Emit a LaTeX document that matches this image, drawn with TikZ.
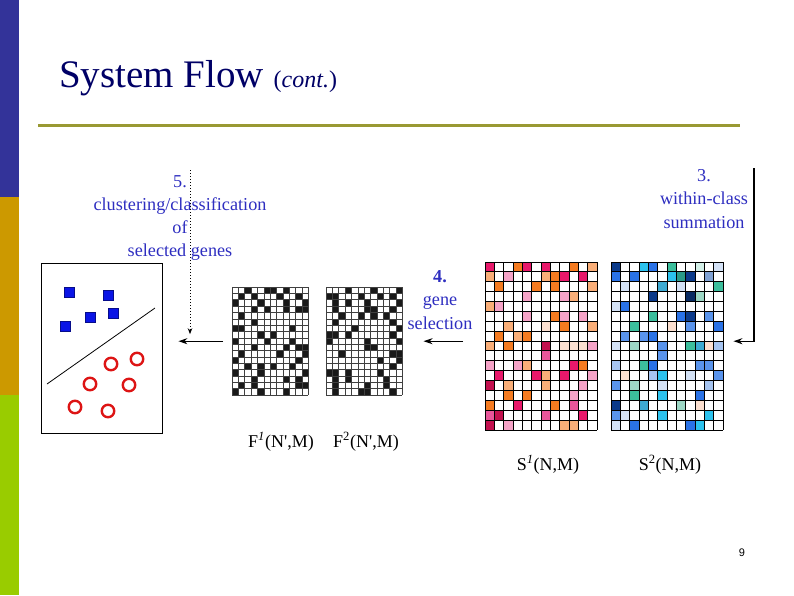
\documentclass[tikz,border=0pt]{standalone}
\usepackage{fontspec}
\setmainfont{Liberation Serif}
\newfontfamily\pagenumfont{Liberation Sans}
\usetikzlibrary{positioning, arrows.meta, calc}
\definecolor{barblue}{HTML}{333399}
\definecolor{bargold}{HTML}{CC9900}
\definecolor{bargreen}{HTML}{99CC00}
\definecolor{titlenavy}{HTML}{000066}
\definecolor{ruleolive}{HTML}{999933}
\definecolor{stepblue}{HTML}{2E2EC0}
\definecolor{sqblue}{HTML}{0A14E6}
\definecolor{ringred}{HTML}{DD1414}
% S1 colours
\definecolor{pk}{HTML}{E8186A}
\definecolor{dpk}{HTML}{C2104E}
\definecolor{mpk}{HTML}{E8569A}
\definecolor{or}{HTML}{F57B20}
\definecolor{lor}{HTML}{F9AE78}
\definecolor{lpk}{HTML}{F5A3C7}
\definecolor{pch}{HTML}{FCE0D0}
% S2 colours
\definecolor{nv}{HTML}{0B3A8A}
\definecolor{dnv}{HTML}{082A62}
\definecolor{bl}{HTML}{2A72E6}
\definecolor{mbl}{HTML}{5A94EC}
\definecolor{cy}{HTML}{2CC2EE}
\definecolor{tl}{HTML}{3CBE9C}
\definecolor{dtl}{HTML}{2A9A88}
\definecolor{ltl}{HTML}{9ED8C6}
\definecolor{ptl}{HTML}{D4F0E8}
\definecolor{lbl}{HTML}{A6C4F0}
\definecolor{plb}{HTML}{D4E2F6}
\definecolor{grb}{HTML}{80A2D4}
\definecolor{sbl}{HTML}{3DAAD2}

\tikzset{
	titletext/.style={
			inner sep=0pt,
			text=titlenavy,
			font=\fontsize{39}{44}\selectfont
		},
	steplabel/.style={
			align=center,
			inner sep=0pt,
			text=stepblue,
			font=\fontsize{18.2}{23.2}\selectfont
		},
	matlabel/.style={
			inner sep=0pt,
			font=\fontsize{18}{20}\selectfont
		},
	fmat/.style={
			anchor=north west,
			inner sep=0pt,
			minimum width=76.2pt,
			minimum height=108pt
		},
	smat/.style={
			anchor=north west,
			inner sep=0pt,
			minimum width=112pt,
			minimum height=168pt
		},
	bluesq/.style={
			draw=sqblue!60!black,
			fill=sqblue,
			line width=0.6pt,
			minimum size=10pt,
			inner sep=0pt
		},
	redring/.style={
			circle,
			draw=ringred,
			line width=2.4pt,
			minimum size=12.5pt,
			inner sep=0pt
		},
	flowarrow/.style={
			-{Stealth[length=9pt,width=6pt]},
			line width=1.1pt
		},
	dotarrow/.style={
			-{Stealth[length=6pt,width=4.5pt]},
			line width=1pt,
			dotted
		}
}

\begin{document}
\begin{tikzpicture}[x=1pt, y=-1pt]
\useasboundingbox (0,0) rectangle (794,595);

% side bar
\fill[barblue] (0,0) rectangle (19,197);
\fill[bargold] (0,197) rectangle (19,395);
\fill[bargreen] (0,395) rectangle (19,595);

% title
\node[titletext, anchor=base west] (title) at (59,87)
	{System Flow {\fontsize{24}{28}\selectfont(\textit{cont.})}};
\draw[ruleolive, line width=3pt] (38,125) -- (740,125);

% classifier panel
\node[draw, line width=0.8pt, minimum width=121pt, minimum height=170pt, inner sep=0pt] (box) at (101.5,348) {};
\node[bluesq] (sq1) at (69,292) {};
\node[bluesq] (sq2) at (108,295) {};
\node[bluesq] (sq3) at (90,317) {};
\node[bluesq] (sq4) at (113,313) {};
\node[bluesq] (sq5) at (65,326) {};
\draw[line width=0.8pt] (47,384) -- (155,308);
\node[redring] (ring1) at (111,364) {};
\node[redring] (ring2) at (137,359) {};
\node[redring] (ring3) at (90,384) {};
\node[redring] (ring4) at (129,385) {};
\node[redring] (ring5) at (75,407) {};
\node[redring] (ring6) at (108,411) {};

% selected gene matrices
\node[fmat] (F1) at (232,287) {};
\node[fmat] (F2) at (326,287) {};
\begin{scope}[shift={(F1.north west)}]
	\foreach \r/\cs in {1/{3,6,7,9},2/{2,4,8,11},3/{1,5,9,12},4/{4,6,9,11,12},
		5/{2},6/{4},7/{1,2,10},8/{5,7},9/{1,6,10},10/{4,9,11,12},11/{2,8,12},
		12/{1,11},13/{3,5,7,10},14/{1,5,12},15/{4,9,11},16/{2,4,11,12},17/{1,5,9}}
		\foreach \c in \cs
			\fill[black!90] ({(\c-1)*6.35},{(\r-1)*6.353}) rectangle ++(6.35,6.353);
	\foreach \i in {0,...,12}
		\draw[black!75, line width=0.5pt] ({\i*6.35},0) -- ({\i*6.35},108);
	\foreach \i in {0,...,17}
		\draw[black!75, line width=0.5pt] (0,{\i*6.353}) -- (76.2,{\i*6.353});
\end{scope}
\begin{scope}[shift={(F2.north west)}]
	\foreach \r/\cs in {1/{4,8,12},2/{1,2,6,9,11},3/{2,4,7,12},4/{2,7,8,11},
		5/{3,6,8,10},6/{2,11},7/{5,12},8/{1,2,4,11},9/{1,7,12},10/{7,8},
		11/{3,11,12},12/{9,12},13/{11},14/{1,2,4,9},15/{2,4,10},16/{2,7,10},17/{2,6,7,11}}
		\foreach \c in \cs
			\fill[black!90] ({(\c-1)*6.35},{(\r-1)*6.353}) rectangle ++(6.35,6.353);
	\foreach \i in {0,...,12}
		\draw[black!75, line width=0.5pt] ({\i*6.35},0) -- ({\i*6.35},108);
	\foreach \i in {0,...,17}
		\draw[black!75, line width=0.5pt] (0,{\i*6.353}) -- (76.2,{\i*6.353});
\end{scope}

% class sum matrices
\node[smat] (S1) at (485,262) {};
\node[smat] (S2) at (611,262) {};
\begin{scope}[shift={(S1.north west)}]
	\foreach \r/\cells in {1/{1/pk,4/or,5/pk,7/pk,10/or,12/lor},
		2/{1/lor,3/lpk,7/lor,8/or,9/pk,11/pk},3/{2/or,6/or,8/or,12/lor},
		4/{5/lpk,9/lpk,10/lor},5/{1/lor,2/lpk},6/{5/lpk,8/or,9/lpk,11/lpk},
		7/{3/lor,7/pch,9/or,12/lor},8/{2/or,4/lor,5/or},
		9/{1/lor,3/or,7/dpk,9/pch,10/pch,11/pch,12/lpk},10/{7/mpk},
		11/{1/lpk,4/lpk,5/lor,10/pk,11/or},12/{2/pk,6/pk,7/lor,9/pk,12/lpk},
		13/{1/dpk,3/lor,7/lor,11/lpk},14/{3/or,5/or,10/lpk},
		15/{1/or,4/pk,8/or,10/mpk},16/{1/mpk,2/dpk,7/mpk,11/pk},
		17/{1/dpk,3/lpk,9/lor,10/lor}}
		\foreach \c/\col in \cells
			\fill[\col] ({(\c-1)*9.333},{(\r-1)*9.882}) rectangle ++(9.333,9.882);
	\foreach \i in {0,...,12}
		\draw[line width=0.9pt] ({\i*9.333},0) -- ({\i*9.333},168);
	\foreach \i in {0,...,17}
		\draw[line width=0.9pt] (0,{\i*9.882}) -- (112,{\i*9.882});
\end{scope}
\begin{scope}[shift={(S2.north west)}]
	\foreach \r/\cells in {1/{1/nv,4/cy,5/bl,7/tl,10/ptl,12/plb},
		2/{1/bl,3/bl,7/cy,8/dtl,9/nv,11/grb},3/{2/plb,6/sbl,8/plb,12/tl},
		4/{5/nv,9/dnv,10/ltl},5/{1/plb,2/bl},6/{5/tl,8/bl,9/nv,11/mbl},
		7/{3/tl,7/pch,9/mbl,12/bl},8/{2/mbl,4/mbl,5/bl},
		9/{1/plb,3/ltl,6/mbl,9/tl,10/sbl,11/pch,12/lbl},10/{6/mbl},
		11/{1/lbl,4/tl,5/bl,10/mbl,11/mbl},12/{2/pch,5/lbl,6/cy,9/plb,12/mbl},
		13/{1/mbl,3/ltl,6/plb,11/lbl},14/{3/tl,6/cy,10/bl},
		15/{1/nv,4/sbl,8/ltl,10/pch},16/{1/mbl,2/plb,6/cy,11/cy},
		17/{1/plb,3/bl,9/bl,10/cy}}
		\foreach \c/\col in \cells
			\fill[\col] ({(\c-1)*9.333},{(\r-1)*9.882}) rectangle ++(9.333,9.882);
	\foreach \i in {0,...,12}
		\draw[line width=0.9pt] ({\i*9.333},0) -- ({\i*9.333},168);
	\foreach \i in {0,...,17}
		\draw[line width=0.9pt] (0,{\i*9.882}) -- (112,{\i*9.882});
\end{scope}

% matrix names
\node[matlabel, anchor=base] (F1lab) at (281,447) {F\textsuperscript{\itshape 1}(N\textquotesingle,M)};
\node[matlabel, anchor=base] (F2lab) at (366,447) {F\textsuperscript{2}(N\textquotesingle,M)};
\node[matlabel, anchor=base] (S1lab) at (548,470) {S\textsuperscript{\itshape 1}(N,M)};
\node[matlabel, anchor=base] (S2lab) at (670,470) {S\textsuperscript{2}(N,M)};

% steps
\node[steplabel] (step5) at (180,218) {5.\\clustering/classification\\of\\selected genes};
\node[steplabel] (step4) at (440,300) {\textbf{4.}\\gene\\selection};
\node[steplabel] (step3) at (704,199) {3.\\within-class\\summation};

\coordinate (top3) at (754,168);
\coordinate (top5) at (190,170);
\draw[flowarrow, shorten >=10pt] (top3) |- (S2.east |- F2.east);
\draw[flowarrow, shorten <=22pt, shorten >=21pt] (S1.west |- F2.east) -- (F2.east);
\draw[flowarrow, shorten <=9pt, shorten >=16pt] (F1.west) -- (F1.west -| box.east);
\draw[dotarrow, shorten >=7pt] (top5) -- (top5 |- F1.west);

% page number
\node[font=\pagenumfont\fontsize{11}{13}\selectfont, inner sep=0pt] (pagenum) at (742,553) {9};
\end{tikzpicture}
\end{document}
